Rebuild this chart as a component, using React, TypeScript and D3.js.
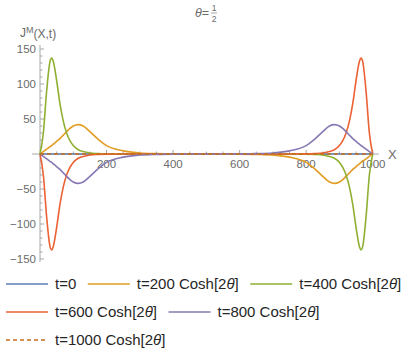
import React, { useEffect, useRef } from "react";
import * as d3 from "d3";

// X positions (shared by the non-flat curves)
const xs = [0, 10, 20, 30, 35, 40, 50, 60, 70, 80, 90, 100, 115, 130, 150, 175, 200, 250, 300, 350, 400,
  500,
  600, 650, 700, 750, 800, 825, 850, 870, 885, 900, 910, 920, 930, 940, 950, 960, 965, 970, 980, 990, 1000];

const flatX = [0, 1000];
const t0 = [0, 0];
const t1000 = [0, 0];

const t200 = [0, 3.5, 7, 10.5, 12, 14, 18, 22, 27, 32, 36.5, 40, 42, 40, 32, 21, 12, 4.5, 1.5, 0.5, 0.15,
  0,
  -0.15, -0.5, -1.5, -4.5, -12, -21, -32, -40, -42, -40, -36.5, -32, -27, -22, -18, -14, -12, -10.5, -7, -3.5, 0];

const t400 = [0, 30, 90, 132, 137, 132, 105, 72, 47, 30, 19, 12, 6, 3.5, 1.5, 0.6, 0.2, 0, 0, 0, 0,
  0,
  0, 0, 0, 0, -0.2, -0.6, -1.5, -3.5, -6, -12, -19, -30, -47, -72, -105, -132, -137, -132, -90, -30, 0];

const t600 = [0, -30, -90, -132, -137, -132, -105, -72, -47, -30, -19, -12, -6, -3.5, -1.5, -0.6, -0.2, 0, 0, 0, 0,
  0,
  0, 0, 0, 0, 0.2, 0.6, 1.5, 3.5, 6, 12, 19, 30, 47, 72, 105, 132, 137, 132, 90, 30, 0];

const t800 = [0, -3.5, -7, -10.5, -12, -14, -18, -22, -27, -32, -36.5, -40, -42, -40, -32, -21, -12, -4.5, -1.5, -0.5, -0.15,
  0,
  0.15, 0.5, 1.5, 4.5, 12, 21, 32, 40, 42, 40, 36.5, 32, 27, 22, 18, 14, 12, 10.5, 7, 3.5, 0];

const seriesLabels = ["t=0", "t=200", "t=400", "t=600", "t=800", "t=1000"];
const seriesColors = ["#5e81b5", "#e19c24", "#8fb032", "#eb6235", "#8778b3", "#c56e1a"];

const yMajor = [-150, -100, -50, 50, 100, 150];
const xMajor = [200, 400, 600, 800, 1000];

export default function App() {
  const svgRef = useRef<SVGSVGElement>(null);

  useEffect(() => {
    const svg = d3.select(svgRef.current);
    svg.selectAll("*").remove();

    const x = d3.scaleLinear().domain([0, 1000]).range([40, 372.7]);
    const y = d3.scaleLinear().domain([-150, 150]).range([259, 49]);
    const axisCol = "#a6a6a6";
    const labCol = "#6b6b6b";
    const font = "'Liberation Sans', Arial, sans-serif";

    // axes lines
    svg.append("line").attr("x1", x(0)).attr("x2", x(0)).attr("y1", y(150) - 4).attr("y2", y(-150) + 3)
      .attr("stroke", axisCol);
    svg.append("line").attr("x1", x(0) - 8).attr("x2", x(1000) + 6).attr("y1", y(0)).attr("y2", y(0))
      .attr("stroke", axisCol);

    // y ticks
    const yMinor = d3.range(-150, 151, 10);
    svg.append("g").selectAll("line").data(yMinor).join("line")
      .attr("x1", x(0)).attr("x2", d => x(0) + (d % 50 === 0 ? 4 : 2.5))
      .attr("y1", d => y(d)).attr("y2", d => y(d)).attr("stroke", axisCol);
    svg.append("g").selectAll("text").data(yMajor).join("text")
      .attr("x", x(0) - 4).attr("y", d => y(d) + 4)
      .attr("text-anchor", "end").attr("font-family", font).attr("font-size", 11.5).attr("fill", labCol)
      .text(d => (d < 0 ? "\u2212" + Math.abs(d) : String(d)));

    // x ticks
    const xMinor = d3.range(50, 1001, 50);
    svg.append("g").selectAll("line").data(xMinor).join("line")
      .attr("x1", d => x(d)).attr("x2", d => x(d))
      .attr("y1", y(0)).attr("y2", d => y(0) - (d % 200 === 0 ? 4 : 2.5)).attr("stroke", axisCol);
    svg.append("g").selectAll("text").data(xMajor).join("text")
      .attr("x", d => x(d)).attr("y", y(0) + 14)
      .attr("text-anchor", "middle").attr("font-family", font).attr("font-size", 11.5).attr("fill", labCol)
      .text(d => String(d));

    svg.append("text").attr("x", 388).attr("y", y(0) + 5).attr("font-family", font)
      .attr("font-size", 13).attr("fill", labCol).text("X");

    // y label  J^M(X,t)
    const yl = svg.append("text").attr("x", 20).attr("y", 37).attr("font-family", font)
      .attr("font-size", 12).attr("fill", labCol);
    yl.append("tspan").text("J");
    yl.append("tspan").attr("font-size", 9).attr("dy", -4).text("M");
    yl.append("tspan").attr("dy", 5).text("(X,t)");

    // title  θ = 1/2
    const tt = svg.append("text").attr("x", 195).attr("y", 17).attr("font-family", font)
      .attr("font-size", 12.5).attr("fill", labCol);
    tt.append("tspan").attr("font-style", "italic").text("\u03b8");
    tt.append("tspan").text("=");
    svg.append("text").attr("x", 214).attr("y", 11).attr("text-anchor", "middle").attr("font-family", font)
      .attr("font-size", 8.5).attr("fill", labCol).text("1");
    svg.append("line").attr("x1", 211).attr("x2", 217).attr("y1", 13).attr("y2", 13)
      .attr("stroke", labCol).attr("stroke-width", 0.6);
    svg.append("text").attr("x", 214).attr("y", 22).attr("text-anchor", "middle").attr("font-family", font)
      .attr("font-size", 8.5).attr("fill", labCol).text("2");

    // curves
    const line = d3.line<number>()
      .x((d, i) => x(xs[i]))
      .y(d => y(d))
      .curve(d3.curveMonotoneX);
    const flat = d3.line<number>().x((d, i) => x(flatX[i])).y(d => y(d));

    const plot = svg.append("g");
    plot.append("path").attr("d", flat(t0)).attr("fill", "none").attr("stroke", seriesColors[0]).attr("stroke-width", 1.6);
    [t200, t400, t600, t800].forEach((vals, k) => {
      plot.append("path").attr("d", line(vals)).attr("fill", "none")
        .attr("stroke", seriesColors[k + 1]).attr("stroke-width", 1.6);
    });
    plot.append("path").attr("d", flat(t1000)).attr("fill", "none").attr("stroke", seriesColors[5])
      .attr("stroke-width", 1.6).attr("stroke-dasharray", "4,3");

    // legend
    const rows = [[0, 1, 2], [3, 4], [5]];
    const rowY = [284, 312, 340];
    rows.forEach((row, r) => {
      let cx = 6;
      row.forEach(k => {
        const g = svg.append("g");
        g.append("line").attr("x1", cx).attr("x2", cx + 42).attr("y1", rowY[r]).attr("y2", rowY[r])
          .attr("stroke", seriesColors[k]).attr("stroke-width", 1.4)
          .attr("stroke-dasharray", k === 5 ? "4,3" : null);
        const t = g.append("text").attr("x", cx + 49).attr("y", rowY[r] + 5).attr("font-family", font)
          .attr("font-size", 15).attr("fill", "#262626");
        if (k === 0) {
          t.text(seriesLabels[k]);
        } else {
          t.append("tspan").text(seriesLabels[k] + " Cosh[2");
          t.append("tspan").attr("font-style", "italic").text("\u03b8");
          t.append("tspan").text("]");
        }
        const w = (t.node() as SVGTextElement).getComputedTextLength();
        cx = cx + 49 + w + 11.5;
      });
    });
  }, []);

  return (
    <svg ref={svgRef} width={406} height={354}
      style={{ position: "absolute", left: 0, top: 0, background: "white" }} />
  );
}
